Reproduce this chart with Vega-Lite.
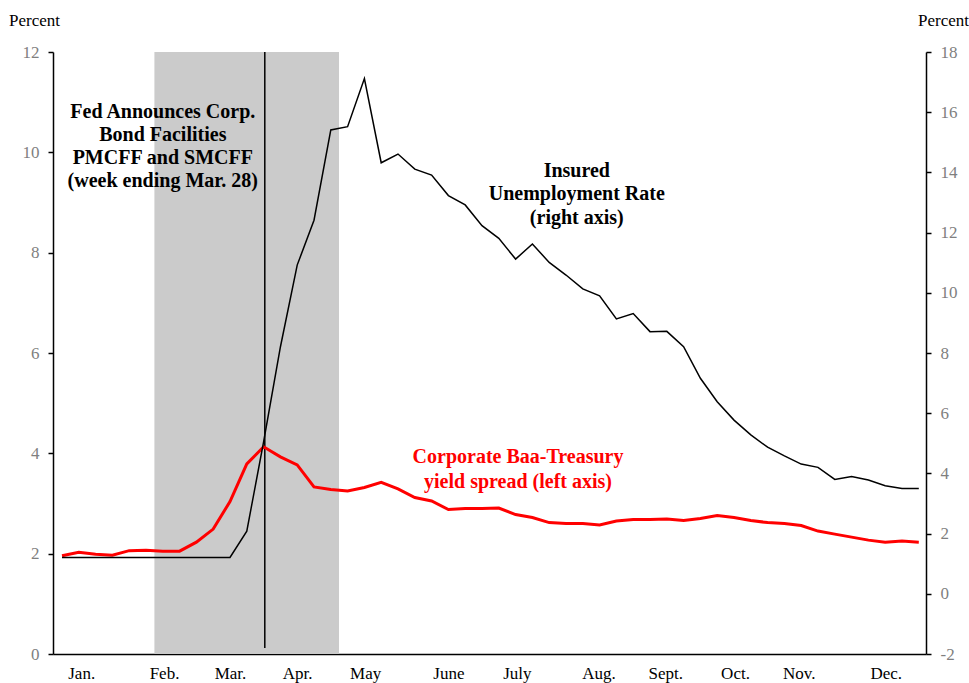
{
  "$schema": "https://vega.github.io/schema/vega-lite/v6.json",
  "width": 873,
  "height": 602,
  "autosize": {"type": "none"},
  "padding": {"left": 53, "top": 52, "right": 43, "bottom": 29},
  "background": "white",
  "config": {"view": {"stroke": null}, "font": "Liberation Serif", "axis": {"grid": false}},
  "datasets": {
    "weekly": [
      {"date": "2020-01-04T00:00", "spread": 1.96, "iur": 1.21},
      {"date": "2020-01-11T00:00", "spread": 2.03, "iur": 1.21},
      {"date": "2020-01-18T00:00", "spread": 1.99, "iur": 1.21},
      {"date": "2020-01-25T00:00", "spread": 1.97, "iur": 1.21},
      {"date": "2020-02-01T00:00", "spread": 2.06, "iur": 1.21},
      {"date": "2020-02-08T00:00", "spread": 2.07, "iur": 1.21},
      {"date": "2020-02-15T00:00", "spread": 2.05, "iur": 1.21},
      {"date": "2020-02-22T00:00", "spread": 2.05, "iur": 1.21},
      {"date": "2020-02-29T00:00", "spread": 2.23, "iur": 1.21},
      {"date": "2020-03-07T00:00", "spread": 2.49, "iur": 1.21},
      {"date": "2020-03-14T00:00", "spread": 3.04, "iur": 1.21},
      {"date": "2020-03-21T00:00", "spread": 3.79, "iur": 2.08},
      {"date": "2020-03-28T00:00", "spread": 4.13, "iur": 5.05},
      {"date": "2020-04-04T00:00", "spread": 3.93, "iur": 8.2},
      {"date": "2020-04-11T00:00", "spread": 3.77, "iur": 10.92},
      {"date": "2020-04-18T00:00", "spread": 3.33, "iur": 12.41},
      {"date": "2020-04-25T00:00", "spread": 3.28, "iur": 15.41},
      {"date": "2020-05-02T00:00", "spread": 3.25, "iur": 15.52},
      {"date": "2020-05-09T00:00", "spread": 3.32, "iur": 17.12},
      {"date": "2020-05-16T00:00", "spread": 3.42, "iur": 14.32},
      {"date": "2020-05-23T00:00", "spread": 3.29, "iur": 14.61},
      {"date": "2020-05-30T00:00", "spread": 3.12, "iur": 14.11},
      {"date": "2020-06-06T00:00", "spread": 3.05, "iur": 13.91},
      {"date": "2020-06-13T00:00", "spread": 2.88, "iur": 13.23},
      {"date": "2020-06-20T00:00", "spread": 2.9, "iur": 12.92},
      {"date": "2020-06-27T00:00", "spread": 2.9, "iur": 12.23},
      {"date": "2020-07-04T00:00", "spread": 2.91, "iur": 11.81},
      {"date": "2020-07-11T00:00", "spread": 2.78, "iur": 11.12},
      {"date": "2020-07-18T00:00", "spread": 2.72, "iur": 11.62},
      {"date": "2020-07-25T00:00", "spread": 2.62, "iur": 11.01},
      {"date": "2020-08-01T00:00", "spread": 2.6, "iur": 10.59},
      {"date": "2020-08-08T00:00", "spread": 2.6, "iur": 10.13},
      {"date": "2020-08-15T00:00", "spread": 2.57, "iur": 9.9},
      {"date": "2020-08-22T00:00", "spread": 2.65, "iur": 9.13},
      {"date": "2020-08-29T00:00", "spread": 2.68, "iur": 9.31},
      {"date": "2020-09-05T00:00", "spread": 2.68, "iur": 8.71},
      {"date": "2020-09-12T00:00", "spread": 2.69, "iur": 8.72},
      {"date": "2020-09-19T00:00", "spread": 2.66, "iur": 8.21},
      {"date": "2020-09-26T00:00", "spread": 2.7, "iur": 7.16},
      {"date": "2020-10-03T00:00", "spread": 2.76, "iur": 6.38},
      {"date": "2020-10-10T00:00", "spread": 2.72, "iur": 5.77},
      {"date": "2020-10-17T00:00", "spread": 2.66, "iur": 5.28},
      {"date": "2020-10-24T00:00", "spread": 2.62, "iur": 4.87},
      {"date": "2020-10-31T00:00", "spread": 2.6, "iur": 4.58},
      {"date": "2020-11-07T00:00", "spread": 2.56, "iur": 4.31},
      {"date": "2020-11-14T00:00", "spread": 2.45, "iur": 4.2},
      {"date": "2020-11-21T00:00", "spread": 2.39, "iur": 3.8},
      {"date": "2020-11-28T00:00", "spread": 2.33, "iur": 3.9},
      {"date": "2020-12-05T00:00", "spread": 2.27, "iur": 3.78},
      {"date": "2020-12-12T00:00", "spread": 2.23, "iur": 3.59},
      {"date": "2020-12-19T00:00", "spread": 2.25, "iur": 3.5},
      {"date": "2020-12-26T00:00", "spread": 2.23, "iur": 3.5}
    ],
    "shade": [{"date": "2020-02-11T12:00", "date2": "2020-04-28T10:00"}],
    "event": [{"date": "2020-03-28T12:00", "spread": 12, "spread2": 0.12}],
    "noteLeft": [
      {"date": "2020-02-15T00:00", "spread": 10.8, "text": ["Fed Announces Corp.", "Bond Facilities", "PMCFF and SMCFF", "(week ending Mar. 28)"]}
    ],
    "noteRed": [
      {"date": "2020-07-12T00:00", "spread": 3.92, "text": ["Corporate Baa-Treasury", "yield spread (left axis)"]}
    ],
    "noteRight": [
      {"date": "2020-08-05T12:00", "iur": 14.05, "text": ["Insured", "Unemployment Rate", "(right axis)"]}
    ]
  },
  "encoding": {
    "x": {
      "field": "date",
      "type": "temporal",
      "scale": {"domain": [{"year": 2019, "month": 12, "date": 31, "hours": 6}, {"year": 2020, "month": 12, "date": 29}]},
      "axis": {
        "title": null,
        "values": [
          {"year": 2020, "month": 1, "date": 12},
          {"year": 2020, "month": 2, "date": 15, "hours": 12},
          {"year": 2020, "month": 3, "date": 14},
          {"year": 2020, "month": 4, "date": 11},
          {"year": 2020, "month": 5, "date": 9, "hours": 8},
          {"year": 2020, "month": 6, "date": 13},
          {"year": 2020, "month": 7, "date": 11, "hours": 12},
          {"year": 2020, "month": 8, "date": 14, "hours": 12},
          {"year": 2020, "month": 9, "date": 11, "hours": 8},
          {"year": 2020, "month": 10, "date": 10, "hours": 10},
          {"year": 2020, "month": 11, "date": 6},
          {"year": 2020, "month": 12, "date": 12, "hours": 5}
        ],
        "labelExpr": "['Jan.','Feb.','Mar.','Apr.','May','June','July','Aug.','Sept.','Oct.','Nov.','Dec.'][month(datum.value)]",
        "ticks": false,
        "labelPadding": 11,
        "labelFont": "Liberation Serif",
        "labelFontSize": 17,
        "labelColor": "black",
        "labelFlush": false,
        "labelOverlap": false,
        "domainColor": "black",
        "domainWidth": 1.5,
        "grid": false
      }
    }
  },
  "layer": [
    {
      "data": {"name": "shade"},
      "mark": {"type": "rect", "color": "#cbcbcb"},
      "encoding": {"x2": {"field": "date2"}}
    },
    {
      "encoding": {
        "y": {
          "field": "spread",
          "type": "quantitative",
          "scale": {"domain": [0, 12]},
          "axis": {
            "orient": "left",
            "values": [0, 2, 4, 6, 8, 10, 12],
            "title": "Percent",
            "titleAngle": 0,
            "titleX": -19,
            "titleY": -32,
            "titleAlign": "center",
            "titleBaseline": "middle",
            "titleFont": "Liberation Serif",
            "titleFontSize": 17,
            "titleFontWeight": "normal",
            "titleColor": "black",
            "labelFont": "Liberation Serif",
            "labelFontSize": 17,
            "labelColor": "#7f7f7f",
            "labelPadding": 9,
            "labelFlush": false,
            "tickSize": 5,
            "tickColor": "black",
            "tickWidth": 1.5,
            "domainColor": "black",
            "domainWidth": 1.5,
            "grid": false
          }
        }
      },
      "layer": [
        {
          "data": {"name": "event"},
          "mark": {"type": "rule", "color": "black", "strokeWidth": 1.5},
          "encoding": {"y2": {"field": "spread2"}}
        },
        {
          "data": {"name": "noteLeft"},
          "mark": {"type": "text", "font": "Liberation Serif", "fontWeight": "bold", "fontSize": 20, "lineHeight": 23, "align": "center", "baseline": "middle", "color": "black"},
          "encoding": {"text": {"field": "text", "type": "nominal"}}
        },
        {
          "data": {"name": "weekly"},
          "mark": {"type": "line", "color": "#ff0000", "strokeWidth": 3}
        },
        {
          "data": {"name": "noteRed"},
          "mark": {"type": "text", "font": "Liberation Serif", "fontWeight": "bold", "fontSize": 20, "lineHeight": 25, "align": "center", "baseline": "middle", "color": "#ff0000"},
          "encoding": {"text": {"field": "text", "type": "nominal"}}
        }
      ]
    },
    {
      "encoding": {
        "y": {
          "field": "iur",
          "type": "quantitative",
          "scale": {"domain": [-2, 18]},
          "axis": {
            "orient": "right",
            "values": [-2, 0, 2, 4, 6, 8, 10, 12, 14, 16, 18],
            "labelExpr": "datum.value < 0 ? '-' + abs(datum.value) : datum.label",
            "title": "Percent",
            "titleAngle": 0,
            "titleX": 17,
            "titleY": -32,
            "titleAlign": "center",
            "titleBaseline": "middle",
            "titleFont": "Liberation Serif",
            "titleFontSize": 17,
            "titleFontWeight": "normal",
            "titleColor": "black",
            "labelFont": "Liberation Serif",
            "labelFontSize": 17,
            "labelColor": "#7f7f7f",
            "labelPadding": 9,
            "labelFlush": false,
            "tickSize": 5,
            "tickColor": "black",
            "tickWidth": 1.5,
            "domainColor": "black",
            "domainWidth": 1.5,
            "grid": false
          }
        }
      },
      "layer": [
        {
          "data": {"name": "weekly"},
          "mark": {"type": "line", "color": "black", "strokeWidth": 1.5}
        },
        {
          "data": {"name": "noteRight"},
          "mark": {"type": "text", "font": "Liberation Serif", "fontWeight": "bold", "fontSize": 20, "lineHeight": 23.5, "align": "center", "baseline": "middle", "color": "black"},
          "encoding": {"text": {"field": "text", "type": "nominal"}}
        }
      ]
    }
  ],
  "resolve": {"scale": {"y": "independent"}, "axis": {"y": "independent"}}
}
